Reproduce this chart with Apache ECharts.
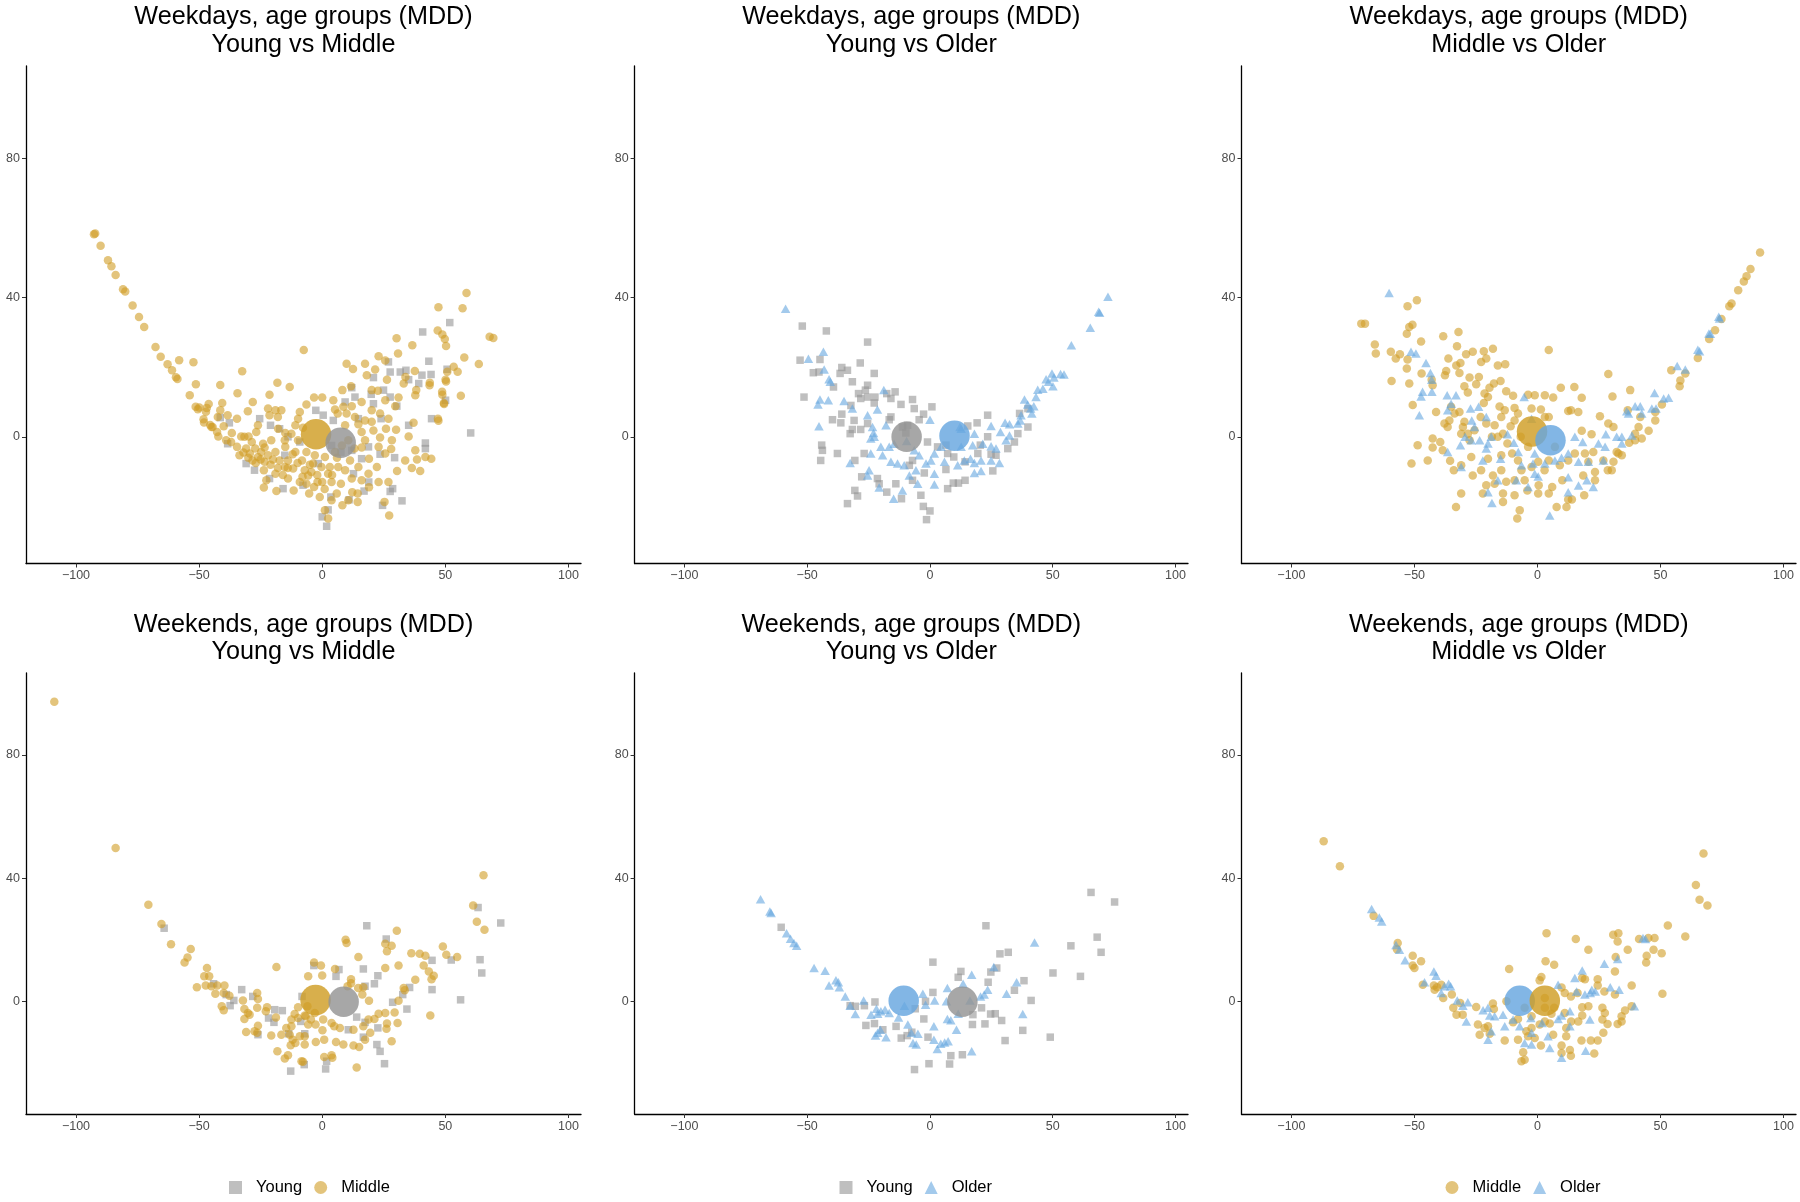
<!DOCTYPE html>
<html><head><meta charset="utf-8">
<script src="https://cdn.jsdelivr.net/npm/echarts@6/dist/echarts.min.js"></script>
<style>html,body{margin:0;padding:0;background:#fff}#c{width:1800px;height:1202px}</style>
</head><body><div id="c"></div>
<script>
// ---------- tick labels ----------
const xTicks = [-100, -50, 0, 50, 100];
const yTicks = [0, 40, 80];

// ---------- titles / legends ----------
const panelTitles = [
  ["Weekdays, age groups (MDD)", "Young vs Middle"],
  ["Weekdays, age groups (MDD)", "Young vs Older"],
  ["Weekdays, age groups (MDD)", "Middle vs Older"],
  ["Weekends, age groups (MDD)", "Young vs Middle"],
  ["Weekends, age groups (MDD)", "Young vs Older"],
  ["Weekends, age groups (MDD)", "Middle vs Older"]
];
const legendGroups = [["Young", "Middle"], ["Young", "Older"], ["Middle", "Older"]];

// ---------- group means (large circles) ----------
const p1YoungMean = [7.5, -1.7],  p1MiddleMean = [-2.5, 0.7];
const p2YoungMean = [-9.5, 0],    p2OlderMean = [10, 0.3];
const p3MiddleMean = [-2.2, 1.5], p3OlderMean = [5.3, -1];
const p4YoungMean = [8.7, 0],     p4MiddleMean = [-2.7, 0.5];
const p5YoungMean = [13.2, 0],    p5OlderMean = [-10.7, 0.3];
const p6MiddleMean = [3, 0.3],    p6OlderMean = [-7.2, 0.3];

// ---------- Panel 1: Weekdays Young vs Middle ----------
const p1Middle = [[-92.7,58.2],[-92.2,58.4],[-90,54.9],[-87,50.7],[-85.6,49],[-83.9,46.5],[-80.9,42.4],[-80,41.7],[-77,37.7],[-74.4,34.4],[-72.3,31.5],[-67.7,25.8],[-65.6,23],[-62.8,20.8],[-61,19.1],[-59.4,17.1],[-58.8,16.6],[-58.1,22],[-52.3,21.4],[-51.3,15.1],[-53.8,11.9],[-51.4,8.6],[-50.5,7.9],[-32.5,18.8],[-7.5,24.9],[-41.4,14.9],[-34.4,12.5],[-46.9,8.3],[-46.1,9.4],[-40.6,9.7],[-47.2,7.2],[-48,4.1],[-45.5,3.4],[-45,2.8],
[58.6,41.3],[47.2,37.2],[57,36.9],[46.9,30.5],[48.8,29.4],[49.8,28.1],[50.3,26.1],[30.2,28.3],[36.6,26.3],[30.8,23.9],[68,28.7],[69.5,28.4],[57.7,22.8],[63.6,20.9],[53.4,20.1],[55,18.7],[56.3,11.8],[50.3,15.9],[50.8,18.7],[43.6,14.8],[48.8,12.1],[49.5,9.4],[47.2,4.6],
[-49.9,8.4],[-48.2,5],[-41.4,7.6],[-44.5,2.8],[-42.7,1.4],[-42.2,0.1],[-39,-1],[-37,-1.5],[-34.6,5.2],[-30.2,7.3],[-28.2,10],[-32.9,0.1],[-31.6,0],[-34.6,-2.9],[-33.6,-5.3],[-30.9,-3.4],[-29.4,-4.8],[-28.3,-6.8],[-26.1,-5.8],[-26.1,3.3],[-26.8,1.4],[-23.4,-3.1],[-23.4,-7.2],[-23.7,-9.6],[-22.7,-12.5],[-23.7,-14.6],[-22,-5.3],[-21.4,6.2],[-21.4,12.1],[-18.2,15.5],[-19,7.6],[-17.9,2.3],[-16.6,7.6],[-15,1.1],[-15,-2.9],[-19,-4.4],[-17.3,-6.8],[-15.2,-8.7],[-19,-10.6],[-18.6,-15.6],[-13.2,14.3],[-11.6,-15.4],[-10.9,-4.4],[-9.8,-1],[-9.8,5.2],[-7.8,2.6],[-6.4,9.3],[-3.3,11.3],[0,11.3],[-6.4,-4.4],[-8.2,-6.8],[-7.1,-9.6],[-3.7,-7.7],[-5.7,-11.1],[-6.4,-13.5],[-3.3,-14.4],[-1.9,-13],[-5.3,-16.3],[-1,-17.3],[1.1,-21.1],[2.4,-23.5],[3.8,-13],[3.1,-8.7],[1.1,-5.8],[5.2,-4.4],[4.5,10.5],[5.2,7.8],[6.3,6.7],[9.9,6.7],[8.2,13.4],[11.7,14.5],[9.9,21],[12.5,19.5],[8.6,8.6],[12,8.8],[16,10],[20.1,7.6],[16,1.4],[17.4,-1],[16,-3.1],[19,-6.3],[22.2,-8.7],[22.9,-13],[18.8,-10.6],[14.7,-8.7],[11.3,-6.8],[9.3,-9.6],[7.6,-13.5],[8.2,-19.7],[12.2,-15.9],[14.4,-16.3],[14.4,-18.7],[17.4,21],[22.9,23.1],[25.6,21.9],[26.3,16.4],[22.6,13.2],[25.6,10.5],[23.5,6.7],[26.9,5.2],[25.9,2.3],[28.3,-1],[29.7,8.8],[31,11.3],[33.1,15.3],[33.8,17.2],[37.6,18.9],[37.8,11.9],[38.2,13.4],[37.1,4],[35.1,0.1],[33.7,-6.8],[30.4,-9.8],[26.9,-13],[25.3,-18.7],[27.2,-22.6],[37.8,-3.9],[38.5,-6.5],[36.4,-9],[39.8,-9.8],[41.9,-5.8],[44.3,-6.3],[43.7,15.5],[47,5.2],[48.7,12.9],[50.1,16.4],[49.4,9.7],[20.1,13.4],[18.1,17.7],[21.5,19.3],[13.3,5.7],[9.3,3.3],[14.7,3.6],[10.6,-1],[13.1,-3.4],[22.9,-2.9],[25.6,-4.8],[20.8,1.8],[23.5,-0.2],[17.4,4.7],[20.1,4.3],[-22,8.1],[-18,5.7],[-29.9,0.1],[-28.6,-1.5],[-27.2,-3.4],[-24.8,-4.4],[-20.7,-1],[-13.9,-6.8],[-11.8,-9.1],[-13.9,-12],[-9.1,-13],[-4.4,-10.1],[-0.3,-8.7],[2.4,-10.6],[6.5,-8.7],[5.9,-16.3],[10.6,-18.2],[3.8,-18.2],[-3,-5.3],[-12.5,0.9],[-10.9,3.3],[-9.1,7.1],[-15.2,-1],[-36.7,1.1],[-40,3],[-38.4,6.2],[-42.4,5.7],
[-32,-4.5],[-30,-6],[-27,-7.5],[-25,-6.5],[-24,-2],[-21,-8],[-20,-6.5],[-18,-9],[-16,-11],[-14,-9],[-12,-5],[-10,-7.5],[-8,-11.5],[-5,-8],[-2,-11],[0,-13],[1,-15],[4,-11],[6,-6],[8,-2.5],[12,-12],[16,-12.5],[19,-14.5],[28,-3.5],[30,2]];
const p1Young = [[51.8,32.8],[40.8,30.1],[26.9,21.5],[27.6,18.6],[20.8,17],[31.7,18.6],[34,19.1],[43.3,21.7],[40.5,17.7],[44.2,17.9],[50.7,19.4],[39.2,15.3],[35.1,16.4],[13.3,11.4],[12,14.1],[19.9,12.2],[24.9,13.4],[27.6,11.4],[30.3,8.8],[20.8,9.5],[23.9,5.2],[14.7,5.2],[9.3,10],[-2.6,7.6],[0.4,6.2],[4.5,4.7],[50.1,10.5],[44.4,5.2],[35.1,3.3],[60.3,1.1],[41.9,-1.8],[41.9,-3.4],[29.4,-6],[23.5,-5],[18.8,-2.9],[16,-6.3],[12.7,-10.6],[18.9,-13],[17,-15.6],[28.6,-14.9],[27.6,-15.7],[32.4,-18.4],[24.5,-19.7],[10.9,-18.1],[3.5,-17.3],[2.4,-21],[0,-23],[1.8,-25.7],[7.6,-4.4],[12,-3.9],[-1.6,-7.7],[-9.1,-1.5],[-13.9,0],[-21,3.3],[-25.4,5.2],[-17.3,2.3],[-37.7,4],[-41.4,5.5],[-38.4,-2],[-30.9,-7.7],[-27.5,-9.6],[-21.4,-12],[-15.9,-14.9],[-7.8,-13.9],[-15.2,-5.3],[3.8,-2.5]];

// ---------- Panel 2: Weekdays Young vs Older ----------
const p2Young = [[-52,31.8],[-42.2,30.4],[-25.4,27.2],[-52.9,22],[-44.8,22.2],[-47.5,18.4],[-45.2,18.6],[-35.9,19.9],[-36.6,18.2],[-33.6,19.1],[-28.4,21.2],[-22.7,18.2],[-31.6,15.8],[-39.3,14.3],[-51.3,11.4],[-25.4,14.8],[-26.3,13.4],[-29.1,12.4],[-28.2,11],[-25.4,11.4],[-22.4,11.4],[-17.6,12.4],[-14.2,12.9],[-15.9,11],[-11.8,9.3],[-7.1,10.7],[-6.4,8.1],[0.8,8.6],[-2.6,6.5],[-4.4,4.9],[-15.9,5.7],[-16.6,4.9],[-22.7,9.7],[-32.2,9],[-35.9,6.5],[-39.7,4.9],[-36.3,4],[-30.9,4.7],[-31.6,2.1],[-32.5,0.9],[-28.2,2.1],[-25.4,3.8],[-44.1,-2.4],[-43.8,-3.9],[-44.5,-6.8],[-37.7,-4.8],[-30.6,-6.8],[-26.8,-4.8],[-27.8,-11.5],[-30.6,-15.4],[-29.5,-17],[-33.6,-19.2],[-21.4,-12],[-20.7,-13.5],[-17.6,-15.9],[-13.9,-13.5],[-11.6,-17.8],[-11.2,2.8],[-9.1,3.3],[-9.8,1.1],[-7.1,-6.8],[-8.4,-8.2],[-2.3,-10.4],[-7.1,-12.5],[-3.7,-16.8],[-2.7,-20],[0,-21.3],[-1.4,-23.8],[-1,-1.5],[3.1,-2.9],[6.5,-2.4],[7.2,-4.8],[9.7,-5.8],[6.5,-9.4],[7.2,-14.9],[9.5,-13.3],[11.6,-13.3],[14.3,-12.5],[14.3,-7.2],[19.5,-4.8],[23.5,0],[23.5,6.2],[19.2,4],[15.4,3.1],[20.5,-2.4],[24.9,-5],[25.6,-9.8],[26.9,-5.3],[31.7,-3.4],[34.4,-1.5],[35.8,0.9],[36.5,6.7],[39.9,2.8],[39.9,8.1]];
const p2Older = [[-58.8,36.8],[72.5,40.2],[69.1,35.6],[68.7,35.9],[65.3,31.3],[57.6,26.3],[53.2,18],[54.6,17.9],[49.7,18.2],[50.5,17],[47.3,16.5],[48.3,15.8],[46,13.8],[43.9,13.5],[50.1,14.5],[43.2,11.4],[38.5,10.7],[39.8,9.3],[42.3,8.8],[41,8.1],[41.5,6.7],[37.1,6.2],[36.8,4.7],[35.8,3.8],[32.4,3.6],[30.6,4],[28.7,1.4],[32.4,0.4],[31,-1],[24.9,3.1],[18.1,0.9],[12.7,2.3],[12.2,2.8],[0,4.9],[17.4,-2.4],[21.5,-2],[24.9,-2.7],[26.9,-3.4],[28.3,-7.5],[24.9,-6.8],[20.8,-6.8],[18.1,-7.5],[16.5,-6.3],[18.1,-10.4],[20.8,-9.8],[12.7,-2.9],[14,-6.8],[11.3,-8.2],[5.9,-7.2],[1.8,-4.8],[0.4,-6.8],[-1.6,-7.7],[1.8,-10.6],[4.5,-2.9],[-6.4,-3.9],[-4.4,-5.3],[-5.7,-9.6],[-8.4,-11.1],[-5,-13.5],[1.8,-13.7],[-11.2,-15.4],[-14.8,-17.8],[-10.5,-8.2],[-13.2,-7.7],[-15.9,-7.2],[-16.6,-2.9],[-14.6,-2],[-20,-2.9],[-24.1,-0.5],[-23,1.1],[-23.4,2.8],[-25.4,6.2],[-21.4,7.8],[-17.9,3.3],[-18.8,13.4],[-24.1,-4.8],[-24.8,-9.6],[-25.4,-11.1],[-20.7,-14.6],[-32.5,-7.5],[-35,10.3],[-31.6,8.1],[-41.4,10.5],[-44.8,10.7],[-45.6,9.3],[-45.2,3],[-49.5,22.4],[-43.4,24.4],[-43.1,19.3],[-41.1,16.5],[-40.6,15.8],[-19.3,-5.3],[-9.5,-1.2],[-22.7,0]];

// ---------- Panel 3: Weekdays Middle vs Older ----------
const p3Middle = [[90.5,52.9],[86.6,48.2],[85,46.1],[83.9,44.6],[81.6,42.1],[78.9,38.3],[78,37.5],[74.8,33.8],[72.2,30.6],[69.8,28.1],[65.2,22.6],
[54.4,19.1],[58.1,16.2],[57.8,14.5],[60.1,18.2],[28.8,18],[37.7,13.4],[30.5,11.6],[36.7,7.6],[50.6,9.3],[47.9,7.1],[41.1,2.8],[45.2,1.7],[39.7,-1],[34.3,-5.3],[32.9,-4.8],[30.9,-7.2],[30.2,-9.6],[28.6,-9.6],[25.4,5.9],[28.8,3.8],[30.9,2.8],[22,0.7],[18,1.7],[15,14.3],[9.5,14.1],[18,11.2],[6.4,11.3],[4.6,24.9],[3,11.9],[-1.1,11.9],[-3.8,12.1],[-9.9,11.8],[-12.7,13.1],[-15,16],[-17.7,15.3],[-19.5,14.1],[-21.5,12.4],[-20.1,11.4],[-21.8,9.7],[-24.9,15.1],[-27.6,17],[-23.8,17.2],[-29.7,14.5],[-28.3,12.7],[-31.7,18.3],[-31.3,21.2],[-29,23.7],[-26.3,24.4],[-21.8,24.6],[-18.1,25.3],[-20.8,22.5],[-22.9,21.5],[-16.1,20.5],[-13.1,20.8],[-32.7,26],[-38.3,28.9],[-32.1,30.1],[-33,20.5],[-36.2,22.5],[-37.1,18.9],[-37.6,17.7],[-47.3,27.4],[-49,39.2],[-52.8,37.5],[-50.8,32.2],[-52.1,31.5],[-53.1,29.6],[-71.6,32.5],[-70.1,32.5],[-66.1,26.5],[-65.7,23.9],[-59.6,24.4],[-57.6,22.5],[-55.9,23.7],[-52.8,22.2],[-53.1,19.6],[-59.3,16],[-52.1,15.3],[-47.1,18.2],[-43,16.4],[-42.6,14.8],[-50.7,9.1],[-41.2,7.1],[-48.7,-2.4],[-51.2,-7.7],[-44.6,-6.8],[-42.6,-0.5],[-42.6,-3.1],[-39.5,-1.5],[-38.5,-3.9],[-36.5,2.8],[-37.8,3.8],[-35.8,4.7],[-33.7,6.7],[-35.1,8.6],[-31.7,7.1],[-29.7,4.3],[-30.3,2.8],[-28.3,0.9],[-27.6,-1],[-31,0.9],[-35.5,-6.9],[-34,-9.6],[-31,-8.2],[-26.9,-5.8],[-26.3,-11.1],[-22.9,-9.6],[-20.1,-6.3],[-18.5,0],[-17.4,3.3],[-14.7,5.7],[-15.4,8.7],[-13.3,7.6],[-9.3,8.3],[-7.9,6.7],[-9.3,4.7],[-10.9,3],[-14,0.9],[-16.1,0],[-14.7,-5.3],[-14.7,-9.6],[-18.1,-11.1],[-20.8,-13.9],[-22.2,-16.3],[-17.4,-13.5],[-14,-16.3],[-31,-16.3],[-33.1,-20.2],[-12.7,-12.9],[-10.3,-4.8],[-7.9,-6.8],[-6.5,-9.6],[-9.3,-12.5],[-9.3,-16.8],[-5.2,-12.5],[-4.1,-15.4],[0.5,-13.9],[0.3,-16.3],[4.6,-16.3],[6,-14.4],[2.9,-9.6],[-2.4,-8.7],[0.3,-7.2],[4.6,-6.8],[9.1,-8.2],[10.1,-12.5],[12.5,-18],[14,-18],[19,-16.8],[7.8,-20.2],[11.8,-20.2],[-7.2,-21.1],[-8.2,-23.5],[-14,-18.7],[-2.4,8.1],[1.4,7.8],[3,5.7],[4.6,5.7],[12.5,7.4],[13.6,7.6],[16.6,7.1],[12.5,-6.8],[15.2,-4.8],[19.3,-4.8],[22.7,-4.4],[20.7,-7.2],[23.4,-10.1],[23.4,-12.5],[18.6,-11.1],[26.8,-6.8],[37.3,-1.7],[32.2,-4.4],[39.7,0.9],[42.4,-0.5],[41.8,5.7],[47.9,4.7],[7.1,-2.9],[-3.8,-2.9],[-6.8,0],[-12.2,-1.9],[-20.8,3.8],[-23.1,5.7],[-25.6,1.9]];
const p3Older = [[74,34],[70.3,29.6],[65.9,24.6],
[-60.3,41.3],[-51.4,24.4],[-49.4,23.9],[-45.3,21.2],[-43.5,18.3],[-43,16.4],[-46.7,12.9],[-47.3,11.6],[-42.9,12.9],[-48,6.2],[-36.7,11.9],[-33.1,11.9],[-35.1,9.5],[-36.5,7.6],[-27.2,8.1],[-23.9,8.6],[-26.7,4.7],[-25.6,2.8],[-20.8,5.7],[-29.4,0],[-31.3,-2.4],[-26.9,-1],[-23.5,-1],[-20.1,-1.9],[-20.8,-3.4],[-18.8,0],[-36.5,-4.4],[-31,-8.7],[-22.2,-6.8],[-15,-6.3],[-16.1,-12.5],[-20.1,-15.9],[-18.5,-19],[-12.2,0.7],[-9.6,-1.7],[-7.8,-4.4],[-5.4,11.4],[-2.4,5.2],[-1.1,-4.8],[-1.8,-7.7],[-1.1,-10.6],[-6.5,-8.2],[-8.6,-12.5],[-3.8,-14.4],[0.3,-11.4],[3,-7.7],[7.1,-6.8],[9.8,-6],[12.5,-4.8],[15.2,0],[18.4,-1.5],[16.7,-7.2],[20.7,-7.2],[12.5,-11.6],[16.7,-14],[20.1,-12.5],[22.7,-14.4],[12.5,-15.9],[5,-22.6],[24.8,-1.9],[27.5,-2.9],[27.8,0.7],[32.2,0],[34.3,-1.9],[37,6.7],[36.3,7.3],[38.4,0.4],[39.7,8.8],[41.8,8.8],[42.4,6.7],[46.5,8.1],[47.6,12.6],[51.3,11],[53.3,11.2],[48.2,8.1],[56.8,20.3],[60.1,19.3],[65.2,25],[69.7,29.7],[73.7,34.5],[26.8,-6.8],[34.3,0]];

// ---------- Panel 4: Weekends Young vs Middle ----------
const p4Middle = [[-108.8,97.2],[-83.9,49.8],[-70.6,31.4],[-65.3,25.2],[-61.4,18.6],[-55.9,12.7],[-54.7,14.3],[-53.4,17.1],[65.5,41],[61.3,31.2],[62.8,25.9],[65.9,23.3],
[-46.8,10.9],[-47.9,8.2],[-45.9,8.2],[-47.3,5.2],[-50.9,4.7],[-45,5],[-43.4,2.6],[-42.6,5.2],[-39.7,5.2],[-40,2.8],[-37.7,1.9],[-40.8,-1.5],[-40,-2.8],[-32.2,0.4],[-31.6,-2.4],[-30.2,-3.7],[-29.5,-4.2],[-31.6,-5.6],[-26.4,2.8],[-26.1,0.9],[-26.4,-2],[-26.1,-7.8],[-26.4,-10.1],[-27.5,-9.6],[-30.9,-9.8],[-22.4,-1.8],[-22.9,-3.1],[-18.8,-5.1],[-20.7,-11],[-16.6,-10.7],[-18.6,11.2],[-14.6,-8.5],[-12.5,-8],[-12.5,-5.8],[-11.2,-4],[-9.8,-1.8],[-7.1,-4.5],[-13.2,-10.7],[-12,-12.3],[-12.8,-14.1],[-10.9,-13.4],[-9.1,-11.2],[-7.1,-13.9],[-7.1,-11.2],[-18.2,-16.1],[-15.2,-18.4],[-13.9,-17.4],[-8.4,-19.3],[-7.8,-19.5],[-2.6,-13.1],[0.8,-12.3],[0.1,-9.3],[-2.7,-7.4],[-5.7,-7.4],[-4.6,-5.8],[3.8,-6.9],[4.9,-8],[7.2,-8.5],[5.6,-13.1],[8.6,-13.9],[0.8,-17.9],[3.8,-17.4],[4.1,-18.2],[12.7,-14.2],[15,-14.7],[14,-21.3],[12.7,-9.1],[19.5,-10.1],[17.4,-12.3],[21.2,-5.6],[25.6,-3.7],[26.3,-7.1],[26.1,-8.8],[28.2,-12.8],[30.6,-6.9],[29.4,-3.5],[31,0.3],[19,0.3],[16.3,2.3],[16.7,4.7],[14.6,4.4],[11.7,7.3],[9.5,20.1],[9.9,19],[14.7,14.5],[-3.3,12.7],[-0.5,11.7],[5.2,10.6],[0,8.5],[-5.7,8.2],[-6,-1.5],[-6.7,-4.7],[-9.8,-5.3],[25.6,10.9],[25.6,18.8],[26.3,16.3],[28.2,18.1],[30.3,23],[31,11.7],[36.2,15.7],[37.8,7.1],[39.6,15.5],[41.9,14.9],[41.2,11.7],[43.3,9.8],[44.4,7.3],[45.3,8.4],[43.9,-4.5],[49,17.9],[50.4,15.2],[54.8,14.5],[33.1,4.4],[33.5,3.7],[11.7,6],[10.3,5],[16.7,-8],[18.8,-5.8],[22.9,-3.9],[0.4,-5.8],[-3,-3.7]];
const p4Young = [[-64.2,23.8],[63.3,30.5],[72.5,25.5],[-44.1,5.8],[-39,2.3],[-37.4,-1.3],[-35.9,0.4],[-32.7,3.9],[-28.2,1.7],[-26.1,-10.7],[-21.8,-5.3],[-19.6,-6.7],[-19.3,-2.6],[-16.2,-2.9],[-13.6,-10.4],[-8.7,-6.4],[-8.2,1.7],[-7.1,-10.4],[-7.3,-20.4],[-12.8,-22.5],[1.4,-21.8],[1.8,-19.3],[-3.4,11.7],[6.8,10.4],[5.6,8.2],[16.7,10.6],[18.1,24.6],[10.6,-9.1],[14,-5],[16.7,-11.5],[17.4,5],[17.4,-6.7],[22.6,8.4],[21.2,5.8],[22.6,-8.5],[22.2,-13.9],[23.5,-16.1],[25.3,-20.1],[26,20.3],[28.6,-0.2],[34.4,-2.4],[32.7,2.3],[35.5,4.6],[44.6,13.4],[44.6,3.9],[52.4,13.5],[56.2,0.6],[64.1,13.6],[64.8,9.3]];

// ---------- Panel 5: Weekends Young vs Older ----------
const p5Young = [[65.6,35.4],[75.2,32.3],[22.8,24.6],[68.1,20.9],[57.4,18.1],[69.7,16],[28.5,15.5],[31.9,16],[-60.6,24.1],[1.2,12.8],[12.6,9.8],[11.5,7.9],[24.8,9.6],[27.2,10.9],[23.7,6.3],[38.3,6.8],[34.4,3.7],[50.1,9.3],[61.3,8.2],[41.2,0.4],[49,-11.5],[30.6,-12.6],[37.8,-9.3],[29.2,-6.1],[26.6,-3.9],[24.7,-4],[21,-2],[17.5,-4.2],[17.3,-7.4],[22.4,-7.2],[1.2,3],[-1.8,0.1],[-2.5,-5.6],[-6,-2.3],[-7.4,-9.9],[-9.3,-11],[-11.7,-11.8],[-13.8,-8],[-22.6,-7.1],[-26.1,-7.7],[-22.4,-0.1],[-26.7,-1.3],[-30.4,-1.5],[-32.5,-1.3],[-19.2,-9.1],[-0.8,-11.5],[-0.4,-20.1],[-6.3,-22],[8,-20.2],[8.5,-17.5],[13.2,-17.2]];
const p5Older = [[-69,33.2],[-65.2,29.2],[-64.7,28.7],[-58.4,22.2],[-56.8,20.4],[-55.4,19],[-54.3,18.1],[-47.2,10.9],[-42.7,10],[-38.3,6.9],[-37.3,6.3],[-41.1,5.2],[-36.9,4.7],[-34.5,1.7],[-32.5,-1.3],[-30.4,-4],[-27,0.4],[-24,-4.2],[-21.8,-2.3],[-21.3,-3.9],[-20,-3.1],[-18.3,-2.6],[-16.6,-3.7],[-20.2,-9.1],[-21.3,-10.1],[-22.2,-11],[-17.9,-11.5],[-12.8,-5.1],[-9,-7.4],[-10.4,-1.3],[-7.6,-10.1],[-5.6,-13.9],[-6.9,-13.4],[-4.9,-10.4],[-2.9,2.6],[-1.8,-1],[1.6,-8],[1.6,-12.3],[3,-15.3],[4.4,-13.6],[6,-13.2],[7.4,-12.8],[7.1,-5.6],[8.5,-6],[10.8,-9.1],[7.1,4.4],[1.9,0.4],[11.5,-3.9],[17,8.7],[13.5,5.8],[20.6,1.7],[22.1,2.3],[23.5,3.9],[26,11.2],[31.2,2.6],[35.3,6.3],[37.8,-4],[42.6,19.2],[17,-16.1],[16.3,0.4],[6.7,0.1]];

// ---------- Panel 6: Weekends Middle vs Older ----------
const p6Middle = [[-86.9,52],[-80.3,43.9],[67.5,48],[64.4,37.8],[65.9,33],[69.1,31.2],
[-66.6,27.8],[-56.8,19],[-57.1,17],[-50.7,14.9],[-47.3,13.1],[-50.7,11.7],[-50,10.9],[-46.6,5.5],[-42.1,5.2],[-40.8,4.7],[-39.1,5.5],[-41.8,3.9],[-38.3,1.2],[-34.8,2.3],[-34.2,-2],[-32.9,-4.2],[-30.4,-4.2],[-31.4,-0.4],[-24.9,-1.7],[-24.2,-7.4],[-23.5,-10.7],[-21.5,-8.5],[-18.1,-0.6],[-17.7,-2.4],[-13.3,-12.6],[-11.5,10.6],[-9.9,-6.7],[-7.9,-12.3],[-5.8,-16.4],[-6.5,-19.3],[-5.2,-18.8],[-3.8,-11.2],[-2.4,-8.5],[-2.4,-4.7],[-4.5,-9.6],[-1.1,-11.8],[1.4,-14.2],[0.9,-7.4],[3,-6.4],[5,-7.1],[6.4,-10.7],[9.8,-14.2],[13.2,-15.7],[13.6,-17.5],[9.8,-16.6],[11.7,-11.2],[11.7,-8.5],[13.7,-6.4],[16.6,-6.4],[18.2,-1.8],[18.2,-4.5],[20.7,-1.5],[17.9,-12.6],[21.7,-12.6],[24.5,-12.6],[26.8,-10.1],[27.4,-3.7],[26.4,-2],[26.4,-5.8],[28.5,-7.2],[23.1,-16.8],[11.1,2.8],[13.6,1.7],[9.8,4.6],[11.1,-3.7],[6.8,-2],[5.7,-3.9],[3,-2],[0.9,6.9],[1.6,8],[3.3,13.1],[6.8,12],[3.7,22.2],[15.6,20.3],[20.7,16.8],[18.2,7.7],[19.3,7.3],[24.5,7.3],[24.5,5.2],[27.2,3.3],[31.5,2.3],[31.5,9.8],[31.8,14.5],[32.6,19.5],[30.8,21.7],[32.9,22.2],[36.7,16.8],[38.3,5.2],[32.6,-7.2],[34.2,-4.7],[34.2,-6.4],[35.6,-2.9],[38.3,-1.5],[41.3,20.3],[44.4,14.9],[44.2,12.7],[45.1,20.6],[47.2,16.8],[47.6,20.6],[50.5,15.7],[50.8,2.6],[53,24.7],[60.1,21.1],[16.3,2.8],[3,1.2],[-12.6,0.1],[-5.2,-2],[-7.9,-5.6],[-20.1,-8],[-19.4,-10.4]];
const p6Older = [[-67.4,30],[-64.3,27.3],[-63.3,26],[-57.5,18.4],[-56.1,16.8],[-53.8,13.4],[-45.9,6.3],[-42.1,9.8],[-41.2,8.4],[-39.1,2.8],[-36.1,5.8],[-35.3,5],[-37.8,5],[-32.6,0.4],[-30.3,-1.3],[-28.3,-0.2],[-28.9,-6.4],[-22.1,-2.8],[-20.1,-2],[-19.4,-4.5],[-17.4,-4.7],[-14,-4.2],[-18.8,-9.6],[-20.1,-12.3],[-13.3,-8],[-9.9,-5.8],[-7.2,-8],[-2.4,-10.1],[-5.2,-13.4],[-2.4,-13.9],[1.9,-6.9],[4.3,-11.2],[5,-15],[8.4,5.5],[8.4,-5.6],[9.8,-4.5],[13.2,-3.1],[13.2,-8],[15.2,7.7],[18.2,10.1],[15.9,3.3],[19.3,2.3],[21.5,2.8],[22.1,3.9],[23.5,3.3],[19.6,-15.9],[9.8,-18.2],[21.3,-5.8],[27.2,12.3],[29.6,4.7],[32.6,13.8],[33.2,3.9],[39.4,-1.5],[42.9,20.6],[43.9,20.3],[-2.7,-5.3]];

// ---------- styling (not data) ----------
const COLORS = { Young: '#949494', Middle: '#D09D25', Older: '#66A6DF' };
const SYMBOLS = { Young: 'rect', Middle: 'circle', Older: 'triangle' };
const SIZES = { Young: 7.5, Middle: 8.5, Older: [9.5, 8.5] };
const LEGEND_ICONS = { Young: 'rect', Middle: 'circle', Older: 'triangle' };
const FONT = 'Liberation Sans, Arial, Helvetica, sans-serif';

const X_MIN = -120.3, X_MAX = 105.1, Y_MIN = -36.4, Y_MAX = 106.5;
const colLeft = [26, 634.6, 1241.5], colWidth = [555, 553.4, 554.5];
const rowTop = [66, 673], rowHeight = [497.5, 441];
const titleY = [[17.5, 45.3], [625, 652.5]];
const legendLeft = [229, 839.5, 1445.5];

const panels = [
  { a: ['Young', p1Young, p1YoungMean], b: ['Middle', p1Middle, p1MiddleMean], meanOrder: ['Middle', 'Young'] },
  { a: ['Young', p2Young, p2YoungMean], b: ['Older', p2Older, p2OlderMean], meanOrder: ['Young', 'Older'] },
  { a: ['Middle', p3Middle, p3MiddleMean], b: ['Older', p3Older, p3OlderMean], meanOrder: ['Middle', 'Older'] },
  { a: ['Young', p4Young, p4YoungMean], b: ['Middle', p4Middle, p4MiddleMean], meanOrder: ['Middle', 'Young'] },
  { a: ['Young', p5Young, p5YoungMean], b: ['Older', p5Older, p5OlderMean], meanOrder: ['Young', 'Older'] },
  { a: ['Middle', p6Middle, p6MiddleMean], b: ['Older', p6Older, p6OlderMean], meanOrder: ['Older', 'Middle'] }
];

const minus = v => String(v).replace('-', '\u2212');
const grids = [], xAxes = [], yAxes = [], series = [], graphics = [];
panels.forEach((p, i) => {
  const col = i % 3, row = Math.floor(i / 3);
  grids.push({ left: colLeft[col], top: rowTop[row], width: colWidth[col], height: rowHeight[row], containLabel: false });
  xAxes.push({
    type: 'value', gridIndex: i, min: X_MIN, max: X_MAX,
    axisLine: { show: true, onZero: false, lineStyle: { color: '#000', width: 1.3 } },
    axisTick: { show: true, length: 4, customValues: xTicks, lineStyle: { color: '#333', width: 1 } },
    axisLabel: { customValues: xTicks, color: '#4D4D4D', fontSize: 12.5, fontFamily: FONT, margin: 6, formatter: minus },
    splitLine: { show: false }
  });
  yAxes.push({
    type: 'value', gridIndex: i, min: Y_MIN, max: Y_MAX,
    axisLine: { show: true, onZero: false, lineStyle: { color: '#000', width: 1.3 } },
    axisTick: { show: true, length: 4, customValues: yTicks, lineStyle: { color: '#333', width: 1 } },
    axisLabel: { customValues: yTicks, color: '#4D4D4D', fontSize: 12.5, fontFamily: FONT, margin: 6, formatter: minus },
    splitLine: { show: false }
  });
  [p.a, p.b].forEach(([name, data]) => {
    series.push({
      type: 'scatter', name, xAxisIndex: i, yAxisIndex: i, data,
      symbol: SYMBOLS[name], symbolSize: SIZES[name],
      itemStyle: { color: COLORS[name], opacity: 0.6 }, silent: true, z: 2
    });
  });
  p.meanOrder.forEach(name => {
    const pt = (p.a[0] === name ? p.a : p.b)[2];
    series.push({
      type: 'scatter', name, xAxisIndex: i, yAxisIndex: i, data: [pt],
      symbol: 'circle', symbolSize: 30.5,
      itemStyle: { color: COLORS[name], opacity: 0.82 }, silent: true, z: 3
    });
  });
  const cx = colLeft[col] + colWidth[col] / 2;
  panelTitles[i].forEach((t, k) => {
    graphics.push({ type: 'text', x: cx, y: titleY[row][k], silent: true,
      style: { text: t, fontSize: 25.2, fontFamily: FONT, fill: '#000', align: 'center', verticalAlign: 'middle' } });
  });
});

const legends = legendGroups.map((g, i) => ({
  data: g.map(n => ({ name: n, icon: LEGEND_ICONS[n] })),
  left: legendLeft[i], top: 1179, padding: 0, orient: 'horizontal',
  itemWidth: 13, itemHeight: 13, itemGap: 12,
  selectedMode: false,
  itemStyle: { opacity: 0.6 },
  textStyle: { fontSize: 16.5, fontFamily: FONT, color: '#000', padding: [0, 0, 0, 9] }
}));

const chart = echarts.init(document.getElementById('c'), null, { renderer: 'canvas' });
chart.setOption({
  animation: false,
  backgroundColor: '#fff',
  grid: grids, xAxis: xAxes, yAxis: yAxes,
  legend: legends,
  series: series,
  graphic: graphics
});
</script></body></html>
